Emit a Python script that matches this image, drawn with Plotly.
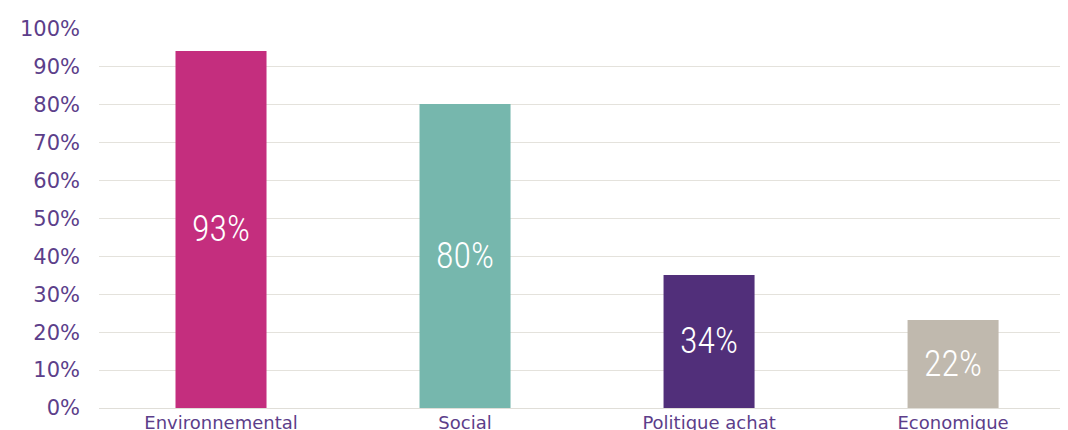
import plotly.graph_objects as go

categories = ["Environnemental", "Social", "Politique achat", "Economique"]
values = [94.2, 80.2, 35.1, 23.2]
labels = ["93%", "80%", "34%", "22%"]
colors = ["#C42E7E", "#76B7AD", "#512F7A", "#C0B9AE"]
tick_vals = [0, 10, 20, 30, 40, 50, 60, 70, 80, 90, 100]
tick_text = [f"{v}%" for v in tick_vals]

fig = go.Figure(go.Bar(
    x=categories, y=values, marker=dict(color=colors, line=dict(width=0)),
    width=0.373, text=labels, textposition="inside", insidetextanchor="middle",
    textfont=dict(family="Roboto Condensed, DejaVu Sans Condensed, sans-serif",
                  size=36, color="white", weight=300),
    textangle=0, hoverinfo="skip",
))

fig.update_layout(
    width=1060, height=430,
    margin=dict(l=91, r=0, t=21, b=30),
    paper_bgcolor="white", plot_bgcolor="white",
    showlegend=False,
    xaxis=dict(range=[-0.5, 3.471], showgrid=False, showline=False, zeroline=False,
               ticks="", ticklabelstandoff=2,
               tickfont=dict(family="DejaVu Sans, sans-serif", size=18, color="#5C3E8A")),
    yaxis=dict(range=[0, 100], tickvals=tick_vals, ticktext=tick_text,
               showgrid=True, gridcolor="#E4E2DC", gridwidth=1,
               zeroline=True, zerolinecolor="#E0DED8", zerolinewidth=1,
               showline=False, ticks="", ticklabelstandoff=18,
               tickfont=dict(family="DejaVu Sans, sans-serif", size=21, color="#5C3E8A")),
)

fig.write_html("out.html")
